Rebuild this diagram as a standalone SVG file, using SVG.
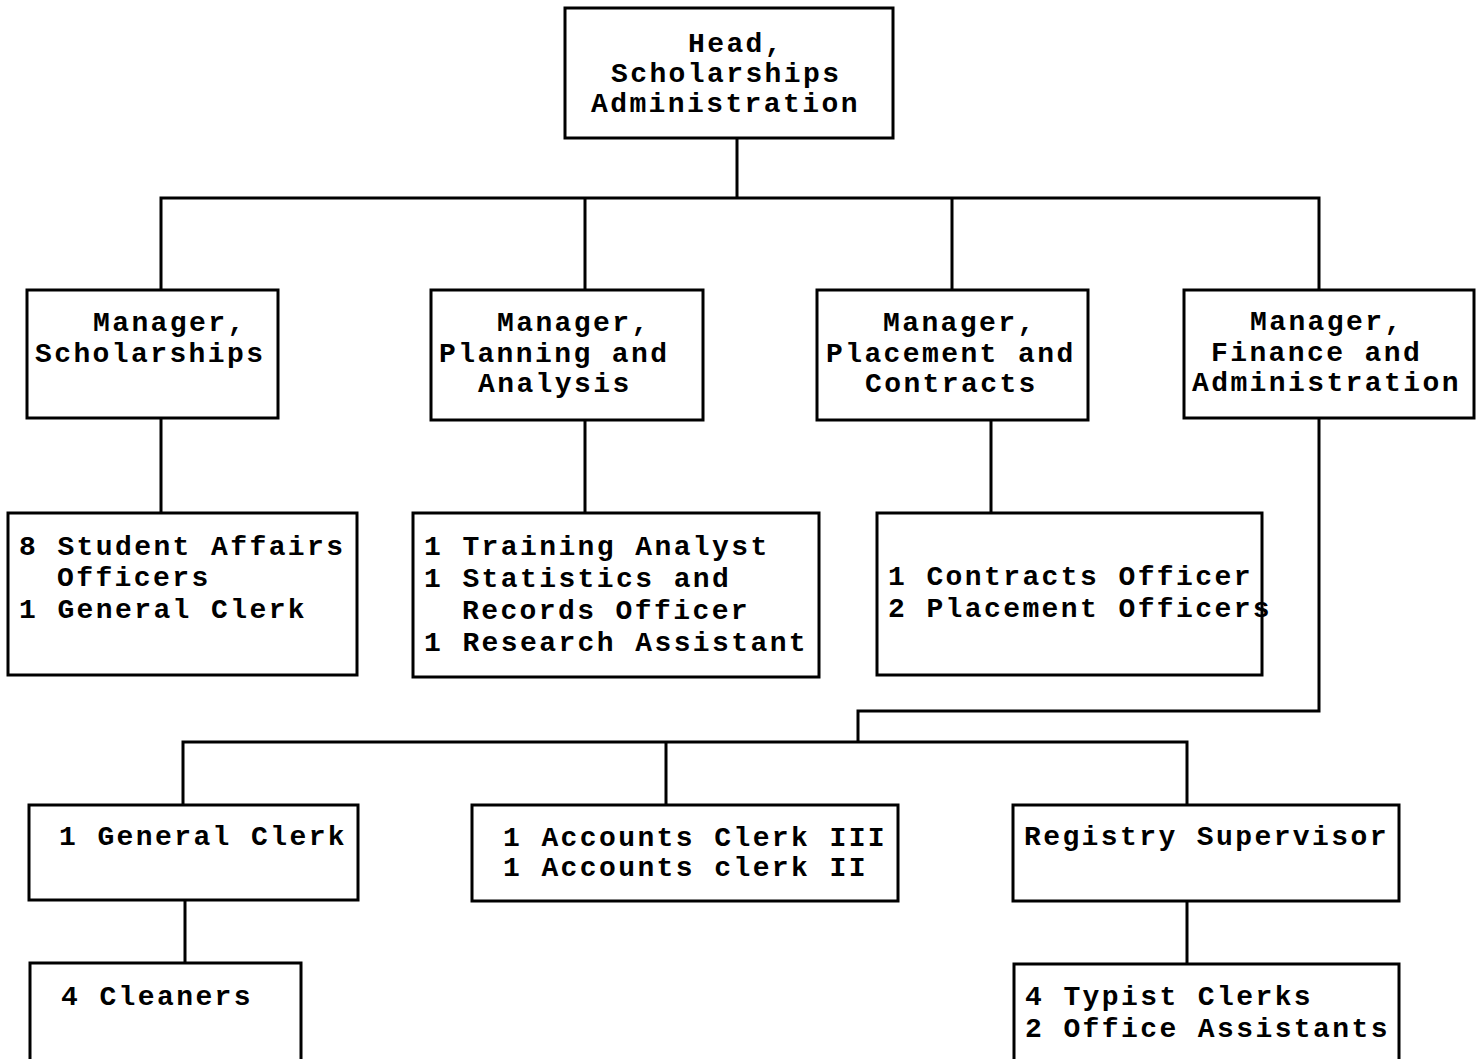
<svg xmlns="http://www.w3.org/2000/svg" width="1481" height="1059" viewBox="0 0 1481 1059">
<style>
.box{fill:#fff;stroke:#000;stroke-width:3}
.ln{fill:none;stroke:#000;stroke-width:3;stroke-linecap:square}
text{font-family:"Liberation Mono","Courier New",monospace;font-weight:bold;font-size:28px;letter-spacing:2.4px;fill:#000}
</style>
<rect width="1481" height="1059" fill="#fff"/>
<g id="connectors">
<path class="ln" d="M737 138V198M161 198H1319M161 198V290M585 198V290M952 198V290M1319 198V290"/>
<path class="ln" d="M161 418V513M585 420V513M991 420V513"/>
<path class="ln" d="M1319 418V711H858V742M183 742H1187M183 742V805M666 742V805M1187 742V805"/>
<path class="ln" d="M185 900V963M1187 901V964"/>
</g>
<g id="head">
<rect class="box" x="565" y="8" width="328" height="130"/>
<text x="688" y="52">Head,</text>
<text x="611" y="82">Scholarships</text>
<text x="591" y="112">Administration</text>
</g>
<g id="mgr-scholarships">
<rect class="box" x="27" y="290" width="251" height="128"/>
<text x="93" y="331">Manager,</text>
<text x="35" y="362">Scholarships</text>
</g>
<g id="mgr-planning">
<rect class="box" x="431" y="290" width="272" height="130"/>
<text x="497" y="331">Manager,</text>
<text x="439" y="362">Planning and</text>
<text x="478" y="392">Analysis</text>
</g>
<g id="mgr-placement">
<rect class="box" x="817" y="290" width="271" height="130"/>
<text x="883" y="331">Manager,</text>
<text x="826" y="362">Placement and</text>
<text x="865" y="392">Contracts</text>
</g>
<g id="mgr-finance">
<rect class="box" x="1184" y="290" width="290" height="128"/>
<text x="1250" y="330">Manager,</text>
<text x="1211" y="361">Finance and</text>
<text x="1192" y="391">Administration</text>
</g>
<g id="staff-scholarships">
<rect class="box" x="8" y="513" width="349" height="162"/>
<text x="19" y="555">8 Student Affairs</text>
<text x="57" y="586">Officers</text>
<text x="19" y="618">1 General Clerk</text>
</g>
<g id="staff-planning">
<rect class="box" x="413" y="513" width="406" height="164"/>
<text x="424" y="555">1 Training Analyst</text>
<text x="424" y="587">1 Statistics and</text>
<text x="462" y="619">Records Officer</text>
<text x="424" y="651">1 Research Assistant</text>
</g>
<g id="staff-placement">
<rect class="box" x="877" y="513" width="385" height="162"/>
<text x="888" y="585">1 Contracts Officer</text>
<text x="888" y="617">2 Placement Officers</text>
</g>
<g id="general-clerk">
<rect class="box" x="29" y="805" width="329" height="95"/>
<text x="59" y="845">1 General Clerk</text>
</g>
<g id="accounts">
<rect class="box" x="472" y="805" width="426" height="96"/>
<text x="503" y="846">1 Accounts Clerk III</text>
<text x="503" y="876">1 Accounts clerk II</text>
</g>
<g id="registry">
<rect class="box" x="1013" y="805" width="386" height="96"/>
<text x="1024" y="845">Registry Supervisor</text>
</g>
<g id="cleaners">
<rect class="box" x="30" y="963" width="271" height="110"/>
<text x="61" y="1005">4 Cleaners</text>
</g>
<g id="typists">
<rect class="box" x="1014" y="964" width="385" height="110"/>
<text x="1025" y="1005">4 Typist Clerks</text>
<text x="1025" y="1037">2 Office Assistants</text>
</g>
</svg>
